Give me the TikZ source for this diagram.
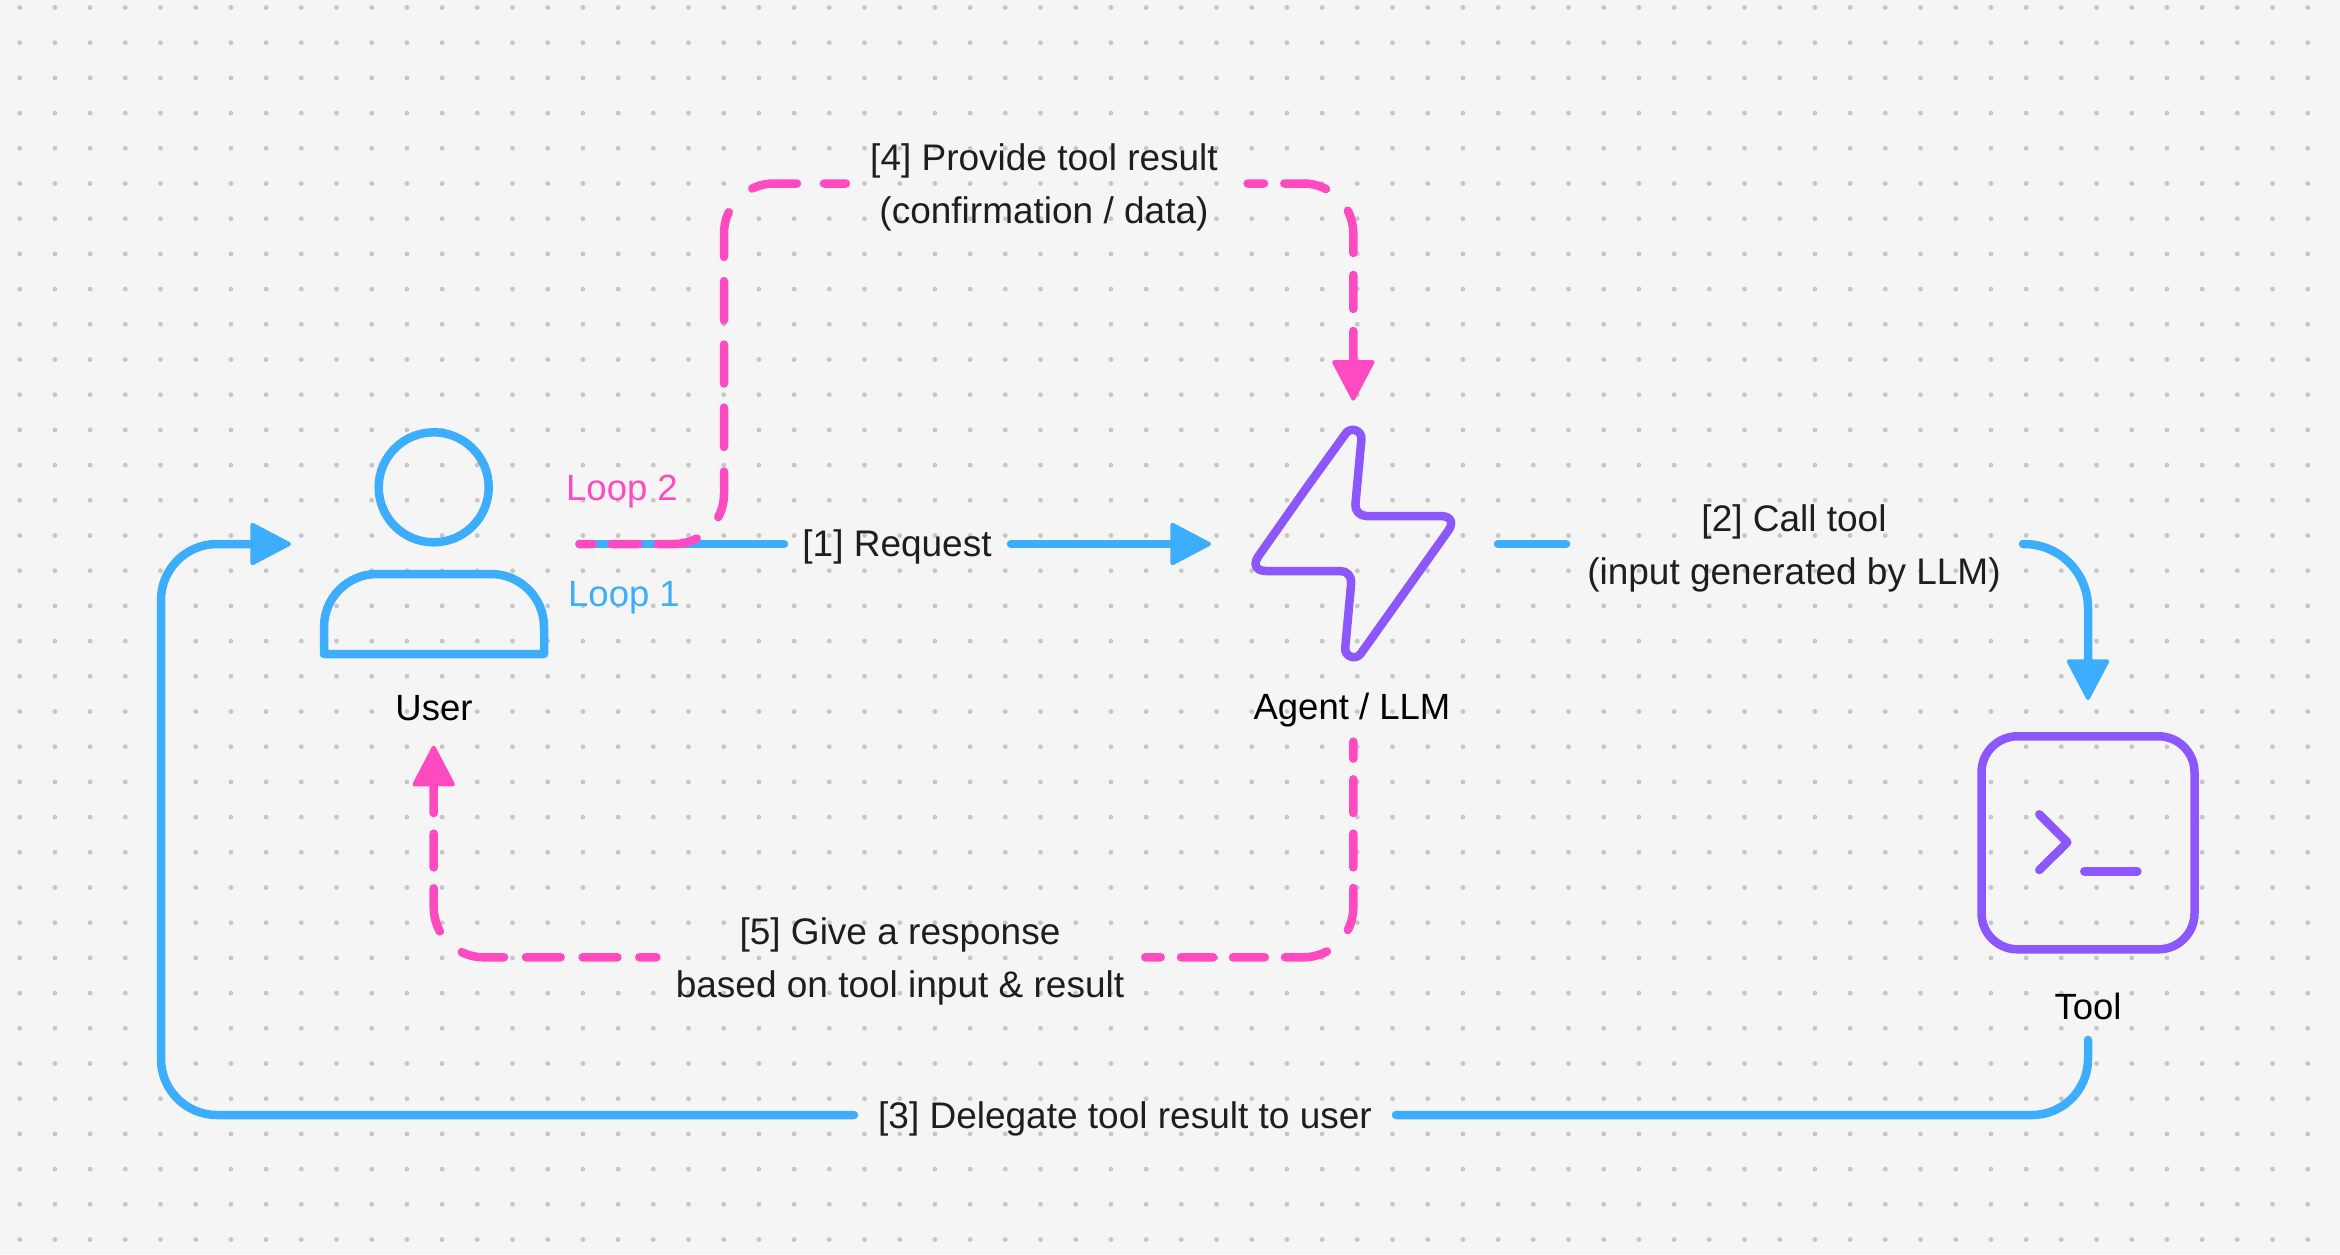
\documentclass[tikz,border=0pt]{standalone}
\usepackage{fontspec}
\setmainfont{Liberation Sans}
\usetikzlibrary{arrows.meta,calc}
\definecolor{loopblue}{HTML}{3DAEFF}
\definecolor{looppink}{HTML}{FF4BBF}
\definecolor{iconpurple}{HTML}{8C57FF}
\definecolor{canvas}{HTML}{F5F5F5}
\definecolor{griddot}{HTML}{C6C6C6}
\definecolor{textdark}{HTML}{1E1E1E}
\begin{document}
\begin{tikzpicture}[x=1pt, y=-1pt, line join=round,
    icon/.style={draw=iconpurple, line width=8.5pt},
    person/.style={draw=loopblue, line width=8.5pt},
    blueline/.style={draw=loopblue, line width=8.5pt, line cap=round, rounded corners=56pt},
    pinkline/.style={draw=looppink, line width=8.5pt, line cap=round, rounded corners=50pt},
    bluetip/.style={-{Triangle[length=43pt, width=44pt, round, line width=4pt, fill=loopblue]}},
    pinktip/.style={-{Triangle[length=43pt, width=44pt, round, line width=4pt, fill=looppink]}},
    step label/.style={font=\fontsize{37}{53}\selectfont, text=textdark, align=center, inner sep=0pt},
    name label/.style={font=\fontsize{36.5}{44}\selectfont, text=black, inner sep=0pt},
    loop label/.style={font=\fontsize{36.5}{44}\selectfont, inner sep=0pt}]
    \useasboundingbox (0,0) rectangle (2340,1254);
    \fill[canvas] (0,0) rectangle (2340,1254);
    % dotted canvas
    \foreach \i in {0,...,66} {
        \foreach \j in {0,...,35} {
            \fill[griddot] (19.7+35.2*\i, 7.5+35.2*\j) circle (2.4pt);
        }
    }

    % icons
    \node[circle, person, minimum size=110pt, inner sep=0pt, outer sep=0pt] (head) at (433.7,487.3) {};
    \draw[person] (324,654) [rounded corners=53pt] -- (324,574) -- (544,574) [sharp corners] -- (544,654) -- cycle;
    \draw[icon] (1306,488.5) -- (1345.8,433.4) .. controls (1350.8,426.3) and (1362.2,430.5) .. (1361.4,439.2)
        [rounded corners=12pt] -- (1354.3,516) [rounded corners=18pt] -- (1458.7,516) [sharp corners] -- (1360.8,653.6)
        .. controls (1355.8,660.7) and (1344.4,656.5) .. (1345.2,647.8)
        [rounded corners=12pt] -- (1352.3,571) [rounded corners=18pt] -- (1248,571) [sharp corners] -- cycle;
    \node[rectangle, icon, rounded corners=36pt, minimum width=213pt, minimum height=213pt, inner sep=0pt, outer sep=0pt] (tool) at (2088,842.8) {};
    \draw[icon, line cap=round] (2039.3,814.3) -- (2067.3,842.3) -- (2039.3,870);
    \draw[icon, line cap=round] (2084.3,871.3) -- (2137.3,871.3);

    % names
    \node[name label] (user label) at (434,708) {User};
    \node[name label] (agent label) at (1352,710) {Agent / LLM};
    \node[name label] (tool label) at (2088,1006) {Tool};
    \node[loop label, text=looppink] (loop two) at (622,492) {Loop 2};
    \node[loop label, text=loopblue] (loop one) at (624,598) {Loop 1};

    % step texts
    \node[step label] (request) at (897,547) {[1] Request};
    \node[step label] (call) at (1794,548) {[2] Call tool\\(input generated by LLM)};
    \node[step label] (delegate) at (1125,1119) {[3] Delegate tool result to user};
    \node[step label] (provide) at (1044,187) {[4] Provide tool result\\(confirmation / data)};
    \node[step label] (respond) at (900,961) {[5] Give a response\\based on tool input \& result};

    % end points
    \coordinate (user out) at (579.5,544);
    \coordinate (user in) at (291,544);
    \coordinate (agent in) at (1211,544);
    \coordinate (agent out) at (1498,544);
    \coordinate (agent top) at (1353.3,400.7);
    \coordinate (agent bottom) at (1353.3,741.6);
    \coordinate (tool in) at (2088,700);
    \coordinate (tool out) at (2088,1040);
    \coordinate (user bottom) at (433.7,745.7);

    % loop 1
    \draw[blueline] (user out) -- (784,544);
    \draw[blueline, bluetip] (1011,544) -- (agent in);
    \draw[blueline] (agent out) -- (1566,544);
    \draw[blueline, bluetip, rounded corners=64pt] (2023,544) -| (tool in);
    \draw[blueline] (tool out) |- (1396,1115);
    \draw[blueline, bluetip] (854,1115) -| (161,544) -- (user in);

    % loop 2
    \draw[pinkline, dash pattern=on 13.2pt off 19.3pt on 26.4pt off 19.2pt on 40pt off 30.9pt on 46.4pt off 24.8pt on 39.2pt off 24.1pt on 39pt off 24.3pt on 39pt off 24.3pt on 45.4pt off 34pt on 45.5pt off 27pt on 22pt off 100pt] (user out) -| (724,183.5) -- (846,183.5);
    \draw[pinkline, pinktip, dash pattern=on 16.4pt off 20.3pt on 42.6pt off 31.3pt on 43.1pt off 22pt on 34pt off 22pt on 100pt off 10pt] (1247.6,183.5) -| (agent top);
    \draw[pinkline, dash pattern=on 17.1pt off 20.6pt on 33.7pt off 20.6pt on 33.8pt off 20.6pt on 42.9pt off 30.4pt on 42.8pt off 20.2pt on 31.8pt off 20pt on 32pt off 20.3pt on 15.5pt off 100pt] (agent bottom) |- (1145.2,957.3);
    \draw[pinkline, pinktip, dash pattern=on 17.1pt off 21.9pt on 34.8pt off 21.9pt on 34.7pt off 22pt on 43.1pt off 30.5pt on 44.2pt off 20.9pt on 33.8pt off 20.6pt on 100pt off 10pt] (656.4,957.3) -| (user bottom);
\end{tikzpicture}
\end{document}
